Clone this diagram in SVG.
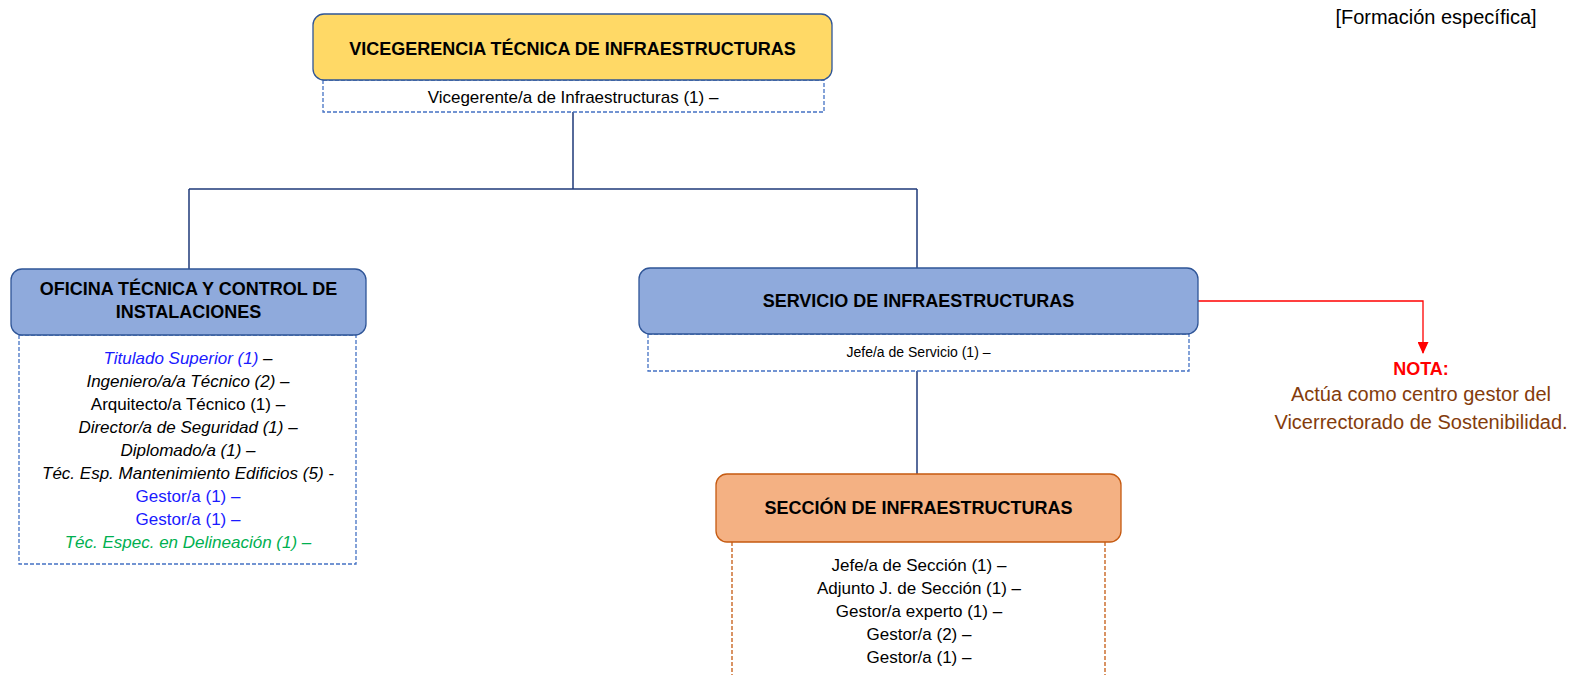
<svg xmlns="http://www.w3.org/2000/svg" width="1575" height="675" viewBox="0 0 1575 675">
<style>
.t{font-family:"Liberation Sans",Arial,sans-serif;text-anchor:middle}
.h{font-size:18px;font-weight:bold;fill:#000}
.b{font-size:17px;fill:#000}
.i{font-style:italic}
.conn{fill:none;stroke:#1F3A7A;stroke-width:1.5}
.dashB{fill:#fff;stroke:#4472C4;stroke-width:1.3;stroke-dasharray:4 2}
.dashO{fill:none;stroke:#C55A11;stroke-width:1.3;stroke-dasharray:4 2}
</style>
<defs>
<marker id="arr" markerWidth="12" markerHeight="11" refX="11" refY="5.5" orient="auto" markerUnits="userSpaceOnUse" viewBox="0 0 12 11">
<path d="M0,0 L12,5.5 L0,11 Z" fill="#FF0000"/>
</marker>
</defs>
<rect width="1575" height="675" fill="#fff"/>
<g id="connectors">
<path class="conn" d="M573,112 V189 M189,189 H917 M189,189 V269 M917,189 V268"/>
<path class="conn" d="M917,371 V474"/>
<path d="M1198,301 H1423 V353" fill="none" stroke="#FF0000" stroke-width="1.3" marker-end="url(#arr)"/>
</g>
<g id="vicegerencia">
<rect x="323" y="80" width="501" height="32" class="dashB"/>
<rect x="313" y="14" width="519" height="66" rx="11" fill="#FFD966" stroke="#2F5597" stroke-width="1.3"/>
<text class="t h" x="572.5" y="54.5">VICEGERENCIA TÉCNICA DE INFRAESTRUCTURAS</text>
<text class="t b" x="573" y="103">Vicegerente/a de Infraestructuras (1) –</text>
</g>
<g id="oficina">
<rect x="19" y="335" width="337" height="229" class="dashB"/>
<rect x="11" y="269" width="355" height="66" rx="11" fill="#8FAADC" stroke="#2F5597" stroke-width="1.3"/>
<text class="t h" x="188.5" y="294.5">OFICINA TÉCNICA Y CONTROL DE</text>
<text class="t h" x="188.5" y="317.5">INSTALACIONES</text>
<text class="t b i" x="188" y="363.5" fill="#1A1AFF"><tspan fill="#1A1AFF">Titulado Superior (1)</tspan><tspan fill="#000"> –</tspan></text>
<text class="t b i" x="188" y="386.7">Ingeniero/a/a Técnico (2) –</text>
<text class="t b" x="188" y="409.8">Arquitecto/a Técnico (1) –</text>
<text class="t b i" x="188" y="432.9">Director/a de Seguridad (1) –</text>
<text class="t b i" x="188" y="456">Diplomado/a (1) –</text>
<text class="t b i" x="188" y="479.1">Téc. Esp. Mantenimiento Edificios (5) -</text>
<text class="t b" x="188" y="502.2" style="fill:#1A1AFF">Gestor/a (1) –</text>
<text class="t b" x="188" y="525.3" style="fill:#1A1AFF">Gestor/a (1) –</text>
<text class="t b i" x="188" y="548.4" style="fill:#00B050">Téc. Espec. en Delineación (1) –</text>
</g>
<g id="servicio">
<rect x="648" y="334" width="541" height="37" class="dashB"/>
<rect x="639" y="268" width="559" height="66" rx="11" fill="#8FAADC" stroke="#2F5597" stroke-width="1.3"/>
<text class="t h" x="918.5" y="306.5">SERVICIO DE INFRAESTRUCTURAS</text>
<text class="t" x="918.5" y="357" font-size="14">Jefe/a de Servicio (1) –</text>
</g>
<g id="nota">
<text class="t" x="1421" y="375" font-size="18" font-weight="bold" fill="#FF0000">NOTA:</text>
<text class="t" x="1421" y="401" font-size="20" fill="#843C0C">Actúa como centro gestor del</text>
<text class="t" x="1421" y="429" font-size="20" fill="#843C0C">Vicerrectorado de Sostenibilidad.</text>
</g>
<g id="formacion">
<text class="t" x="1436" y="24" font-size="20" fill="#000">[Formación específica]</text>
</g>
<g id="seccion">
<path class="dashO" d="M732,542 V676 M1105,542 V676"/>
<rect x="716" y="474" width="405" height="68" rx="11" fill="#F4B183" stroke="#C55A11" stroke-width="1.3"/>
<text class="t h" x="918.5" y="513.5">SECCIÓN DE INFRAESTRUCTURAS</text>
<text class="t b" x="919" y="571">Jefe/a de Sección (1) –</text>
<text class="t b" x="919" y="594">Adjunto J. de Sección (1) –</text>
<text class="t b" x="919" y="617">Gestor/a experto (1) –</text>
<text class="t b" x="919" y="640">Gestor/a (2) –</text>
<text class="t b" x="919" y="663">Gestor/a (1) –</text>
</g>
</svg>
